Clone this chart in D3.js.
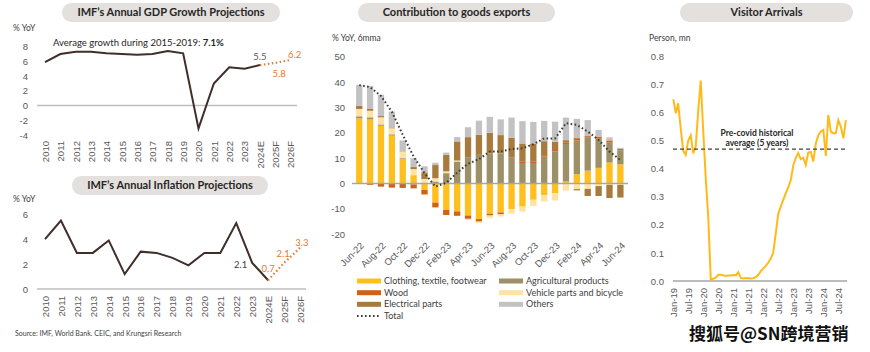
<!DOCTYPE html>
<html>
<head>
  <meta charset="utf-8">
  <title>Cambodia dashboard</title>
  <style>
    body { margin: 0; background: #fff; }
    svg { font-family: Lato, "Open Sans", sans-serif; }
    .pill { fill: #e3e0de; }
    .ptitle { font-weight: bold; font-size: 11px; text-anchor: middle; fill: #262626; }
    .tick text { font-size: 9.5px; fill: #595959; }
    .unit { font-size: 8.5px; fill: #404040; }
    .note { font-size: 9.5px; fill: #262626; }
    .lgd { font-size: 9px; fill: #404040; }
  </style>
</head>
<body>
  <svg id="chart" width="870" height="352"></svg>
  <script src="https://cdn.jsdelivr.net/npm/d3@7"></script>
  <script>
  // ---- data ----
  var years = ["2010","2011","2012","2013","2014","2015","2016","2017","2018",
               "2019","2020","2021","2022","2023","2024E","2025F","2026F"];
  var gdp = [5.9, 7.0, 7.3, 7.3, 7.1, 7.0, 6.9, 7.0, 7.4, 7.1, -3.1, 3.0, 5.2, 5.0, 5.5];
  var gdpProj = [5.5, 5.8, 6.2];
  var cpi = [4.0, 5.5, 2.9, 2.9, 3.9, 1.2, 3.0, 2.9, 2.5, 1.9, 2.9, 2.9, 5.3, 2.1, 0.7];
  var cpiProj = [0.7, 2.1, 3.3];

  var months = ["Jun-22","Jul-22","Aug-22","Sep-22","Oct-22","Nov-22","Dec-22",
                "Jan-23","Feb-23","Mar-23","Apr-23","May-23","Jun-23","Jul-23","Aug-23",
                "Sep-23","Oct-23","Nov-23","Dec-23","Jan-24","Feb-24","Mar-24","Apr-24",
                "May-24","Jun-24"];
  var clothing   = [25.7, 25.3, 22.8, 18.9, 9.7, 3.3, -2.5, -7.5, -10.4, -11.0, -12.6, -14.0, -11.9,
                    -11.4, -10.1, -9.1, -6.4, -4.5, -3.8, 0.8, 3.7, 5.1, 6.2, 8.3, 7.6];
  var agri       = [0.8, 0.8, 0.5, 0.5, 0.3, -0.4, 0.3, 0.8, 4.1, 8.7, 10.4, 11.3, 11.9,
                    11.9, 10.4, 8.1, 8.1, 10.6, 12.7, 14.8, 13.3, 13.0, 11.5, 8.0, 5.5];
  var wood       = [0, -0.5, -1.2, -1.6, -1.7, -1.5, -1.8, -1.9, -2.0, -1.7, -1.3, -1.0, -0.7,
                    -0.6, 0, 0.5, 0.5, 0.6, 0.5, 0.5, 0.9, 0.6, 0.8, 0.7, 0.5];
  var vehicle    = [2.9, 2.6, 2.8, 2.4, 2.5, 2.4, 1.5, 1.3, 0.7, 0.4, -0.5, -0.5, -1.0,
                    -1.0, -1.7, -2.0, -2.4, -2.6, -2.9, -2.8, -2.2, -2.1, -1.0, -0.5, -0.5];
  var electrical = [1.2, 0.7, 0.5, 0.3, 0, 0.8, 2.6, 5.2, 6.5, 7.5, 7.9, 7.9, 8.1,
                    7.2, 7.7, 7.2, 7.2, 5.5, 3.3, 1.0, -0.5, -2.8, -3.9, -5.2, -5.0];
  var others     = [8.3, 9.1, 8.4, 6.3, 4.5, 3.5, 2.4, 0.9, 0.9, 1.7, 3.9, 5.6, 6.3,
                    6.2, 7.9, 8.8, 8.5, 8.0, 7.9, 8.9, 7.6, 6.3, 2.6, 1.2, 0.5];
  var total      = [38.8, 38.0, 34.5, 28.3, 19.2, 10.6, 4.1, -1.2, 0.3, 4.3, 7.8, 9.6, 12.6,
                    12.6, 13.6, 13.9, 15.5, 17.8, 17.8, 23.8, 23.1, 20.5, 17.2, 12.6, 9.3];

  // monthly visitor arrivals, Jan-19 onwards (person, mn)
  var visitors = [0.648, 0.598, 0.634, 0.545, 0.465, 0.45, 0.50, 0.52, 0.455, 0.48, 0.61, 0.715,
                  0.53, 0.36, 0.23, 0.005, 0.008, 0.012, 0.022, 0.022, 0.020, 0.018, 0.020, 0.020,
                  0.021, 0.020, 0.031, 0.011, 0.009, 0.011, 0.010, 0.009, 0.010, 0.014, 0.022, 0.035,
                  0.045, 0.055, 0.065, 0.08, 0.10, 0.17, 0.24, 0.265, 0.29, 0.313, 0.335, 0.36,
                  0.414, 0.44, 0.456, 0.435, 0.44, 0.414, 0.458, 0.46, 0.426, 0.49, 0.52, 0.533,
                  0.539, 0.446, 0.592, 0.533, 0.527, 0.527, 0.574, 0.55, 0.509, 0.574];
  var visitorAvg = 0.47;

  var keys = ["clothing", "agri", "wood", "vehicle", "electrical", "others"];
  var names = {clothing: "Clothing, textile, footwear", agri: "Agricultural products",
               wood: "Wood", vehicle: "Vehicle parts and bicycle",
               electrical: "Electrical parts", others: "Others"};
  var colors = {clothing: "#ffbf1c", agri: "#9d9066", wood: "#cf611b",
                vehicle: "#ffe3a3", electrical: "#a87b3c", others: "#c2c2c2"};

  var svg = d3.select("#chart");
  svg.append("rect").attr("width", 870).attr("height", 352).attr("fill", "#fff");

  // plain hyphen for negatives, like the source
  var fmtInt = function(d) { return String(d); };

  function pill(x, y, w, h, label) {
    svg.append("rect").attr("class", "pill")
      .attr("x", x).attr("y", y).attr("width", w).attr("height", h).attr("rx", h / 2);
    svg.append("text").attr("class", "ptitle")
      .attr("x", x + w / 2).attr("y", y + h / 2).attr("dy", "0.36em").text(label);
  }

  // rotated category labels
  function rotLabels(g, angle) {
    g.select(".domain").remove();
    g.selectAll("text")
      .attr("x", 0).attr("y", 0).attr("dy", "0.35em")
      .attr("transform", "rotate(" + angle + ")")
      .style("text-anchor", "end");
  }
  function leftAxis(x, scale, ticks, fmt) {
    var g = svg.append("g").attr("transform", "translate(" + x + ",0)")
      .call(d3.axisLeft(scale).tickValues(ticks).tickSize(0).tickPadding(0).tickFormat(fmt));
    g.select(".domain").remove();
    return g;
  }

  /* ---------- panel 1: GDP ---------- */
  pill(62, 3, 218, 19, "IMF\u2019s Annual GDP Growth Projections");
  svg.append("text").attr("class", "unit").attr("x", 13).attr("y", 31).text("% YoY");
  var xG = d3.scalePoint().domain(years).range([45, 290.6]);
  var yG = d3.scaleLinear().domain([-4, 8]).range([135, 46.7]);
  leftAxis(28, yG, d3.range(-4, 9, 2), fmtInt);
  svg.append("line").attr("x1", 37).attr("x2", 297).attr("y1", yG(0)).attr("y2", yG(0))
    .attr("stroke", "#bfbfbf").attr("stroke-width", 1.5);
  svg.append("g").attr("transform", "translate(0,141)")
    .call(d3.axisBottom(xG).tickSize(0)).call(rotLabels, -90);
  svg.append("path").datum(gdp)
    .attr("fill", "none").attr("stroke", "#3f2f2b").attr("stroke-width", 2)
    .attr("d", d3.line().x(function(d, i) { return xG(years[i]); }).y(function(d) { return yG(d); }));
  svg.append("path").datum(gdpProj)
    .attr("fill", "none").attr("stroke", "#e07a2e").attr("stroke-width", 2.2)
    .attr("stroke-dasharray", "1.5,2.5")
    .attr("d", d3.line().x(function(d, i) { return xG(years[14 + i]); }).y(function(d) { return yG(d); }));
  var avg = svg.append("text").attr("class", "note").attr("x", 53).attr("y", 46);
  avg.append("tspan").text("Average growth during 2015-2019: ");
  avg.append("tspan").attr("font-weight", "bold").text("7.1%");
  svg.append("text").attr("class", "note").attr("text-anchor", "middle").style("fill", "#595959")
    .attr("x", xG("2024E")).attr("y", yG(gdpProj[0]) - 5).text(gdpProj[0].toFixed(1));
  svg.append("text").attr("class", "note").attr("text-anchor", "middle").style("fill", "#e07a2e")
    .attr("x", xG("2025F") + 4).attr("y", yG(gdpProj[1]) + 14).text(gdpProj[1].toFixed(1));
  svg.append("text").attr("class", "note").attr("text-anchor", "middle").style("fill", "#e07a2e")
    .attr("x", xG("2026F") + 4).attr("y", yG(gdpProj[2]) - 2).text(gdpProj[2].toFixed(1));

  /* ---------- panel 2: inflation ---------- */
  pill(72, 176, 196, 19, "IMF\u2019s Annual Inflation Projections");
  svg.append("text").attr("class", "unit").attr("x", 13).attr("y", 202).text("% YoY");
  var xC = d3.scalePoint().domain(years).range([45, 300]);
  var yC = d3.scaleLinear().domain([0, 6]).range([289, 214.3]);
  leftAxis(28, yC, d3.range(0, 7, 2), fmtInt);
  svg.append("line").attr("x1", 37).attr("x2", 306).attr("y1", yC(0)).attr("y2", yC(0))
    .attr("stroke", "#bfbfbf").attr("stroke-width", 1.5);
  svg.append("g").attr("transform", "translate(0,296)")
    .call(d3.axisBottom(xC).tickSize(0)).call(rotLabels, -90);
  svg.append("path").datum(cpi)
    .attr("fill", "none").attr("stroke", "#3f2f2b").attr("stroke-width", 2)
    .attr("d", d3.line().x(function(d, i) { return xC(years[i]); }).y(function(d) { return yC(d); }));
  svg.append("path").datum(cpiProj)
    .attr("fill", "none").attr("stroke", "#e07a2e").attr("stroke-width", 2.2)
    .attr("stroke-dasharray", "1.5,2.5")
    .attr("d", d3.line().x(function(d, i) { return xC(years[14 + i]); }).y(function(d) { return yC(d); }));
  svg.append("text").attr("class", "note").attr("text-anchor", "end").style("fill", "#404040")
    .attr("x", xC("2023") - 5).attr("y", yC(cpi[13]) + 5).text(cpi[13].toFixed(1));
  svg.append("text").attr("class", "note").attr("text-anchor", "middle").style("fill", "#e07a2e")
    .attr("x", xC("2024E")).attr("y", yC(cpiProj[0]) - 8).text(cpiProj[0].toFixed(1));
  svg.append("text").attr("class", "note").attr("text-anchor", "middle").style("fill", "#e07a2e")
    .attr("x", xC("2025F") - 1).attr("y", yC(cpiProj[1]) - 6).text(cpiProj[1].toFixed(1));
  svg.append("text").attr("class", "note").attr("text-anchor", "middle").style("fill", "#e07a2e")
    .attr("x", xC("2026F") + 2).attr("y", yC(cpiProj[2]) - 2).text(cpiProj[2].toFixed(1));
  svg.append("text").attr("x", 15).attr("y", 336).attr("font-size", 7).attr("fill", "#404040")
    .text("Source: IMF, World Bank. CEIC, and Krungsri Research");

  /* ---------- panel 3: contribution to goods exports ---------- */
  pill(358, 3, 197, 19, "Contribution to goods exports");
  svg.append("text").attr("class", "unit").attr("x", 332).attr("y", 41).text("% YoY, 6mma");
  var rows = months.map(function(m, i) {
    return {month: m, clothing: clothing[i], agri: agri[i], wood: wood[i],
            vehicle: vehicle[i], electrical: electrical[i], others: others[i]};
  });
  var series = d3.stack().keys(keys).offset(d3.stackOffsetDiverging)(rows);
  var xM = d3.scaleBand().domain(months).range([351.5, 628.1]).padding(0.42);
  var yM = d3.scaleLinear().domain([-20, 50]).range([234.3, 56.7]);
  leftAxis(345, yM, d3.range(-20, 51, 10), fmtInt);
  svg.append("g").selectAll("g").data(series).enter().append("g")
      .attr("fill", function(s) { return colors[s.key]; })
    .selectAll("rect").data(function(s) { return s; }).enter().append("rect")
      .attr("x", function(d) { return xM(d.data.month); })
      .attr("width", xM.bandwidth())
      .attr("y", function(d) { return yM(d[1]); })
      .attr("height", function(d) { return Math.abs(yM(d[0]) - yM(d[1])); });
  svg.append("line").attr("x1", 352).attr("x2", 628).attr("y1", yM(0)).attr("y2", yM(0))
    .attr("stroke", "#a6a6a6").attr("stroke-width", 1.5);
  svg.append("path").datum(total)
    .attr("fill", "none").attr("stroke", "#3a3a3a").attr("stroke-width", 2)
    .attr("stroke-dasharray", "1.6,2.4")
    .attr("d", d3.line()
      .x(function(d, i) { return xM(months[i]) + xM.bandwidth() / 2; })
      .y(function(d) { return yM(d); }));
  svg.append("g").attr("transform", "translate(3,244)")
    .call(d3.axisBottom(xM).tickSize(0)
      .tickValues(months.filter(function(d, i) { return i % 2 === 0; })))
    .call(rotLabels, -45);

  // legend
  var lgdItems = [["clothing", 357, 281], ["wood", 357, 292.7], ["electrical", 357, 304.3],
                  ["agri", 499, 281], ["vehicle", 499, 292.7], ["others", 499, 304.3]];
  var lg = svg.append("g");
  lgdItems.forEach(function(it) {
    lg.append("rect").attr("x", it[1]).attr("y", it[2] - 2.5).attr("width", 24).attr("height", 5)
      .attr("fill", colors[it[0]]);
    lg.append("text").attr("class", "lgd").attr("x", it[1] + 27).attr("y", it[2])
      .attr("dy", "0.35em").text(names[it[0]]);
  });
  lg.append("line").attr("x1", 357).attr("x2", 381).attr("y1", 316).attr("y2", 316)
    .attr("stroke", "#3a3a3a").attr("stroke-width", 2).attr("stroke-dasharray", "1.6,2.4");
  lg.append("text").attr("class", "lgd").attr("x", 384).attr("y", 316).attr("dy", "0.35em").text("Total");

  /* ---------- panel 4: visitor arrivals ---------- */
  pill(680, 3, 173, 19, "Visitor Arrivals");
  svg.append("text").attr("class", "unit").attr("x", 649).attr("y", 41).text("Person, mn");
  var vDates = visitors.map(function(v, i) { return new Date(2019, i, 1); });
  var xV = d3.scaleTime().domain([new Date(2019, 0, 1), new Date(2024, 6, 1)]).range([673.3, 838.3]);
  var yV = d3.scaleLinear().domain([0, 0.8]).range([281, 56.7]);
  leftAxis(664, yV, d3.range(0, 0.81, 0.1), d3.format(".1f"));
  svg.append("line").attr("x1", 673).attr("x2", 847).attr("y1", yV(0)).attr("y2", yV(0))
    .attr("stroke", "#a6a6a6").attr("stroke-width", 1.5);
  svg.append("g").attr("transform", "translate(0,288)")
    .call(d3.axisBottom(xV).tickSize(0)
      .tickValues(d3.timeMonth.every(6).range(new Date(2019, 0, 1), new Date(2024, 7, 1)))
      .tickFormat(d3.timeFormat("%b-%y")))
    .call(rotLabels, -90);
  svg.append("path").datum(visitors)
    .attr("fill", "none").attr("stroke", "#ffba1a").attr("stroke-width", 2)
    .attr("d", d3.line().x(function(d, i) { return xV(vDates[i]); }).y(function(d) { return yV(d); }));
  svg.append("line").attr("x1", 673).attr("x2", 848).attr("y1", yV(visitorAvg)).attr("y2", yV(visitorAvg))
    .attr("stroke", "#404040").attr("stroke-width", 1.2).attr("stroke-dasharray", "4,3");
  var avgTxt = svg.append("text").attr("text-anchor", "middle").attr("font-weight", "bold")
    .attr("font-size", 8.5).attr("fill", "#262626");
  avgTxt.append("tspan").attr("x", 757).attr("y", 136).text("Pre-covid historical");
  avgTxt.append("tspan").attr("x", 757).attr("y", 146).text("average (5 years)");

  // watermark
  svg.append("text").attr("x", 689).attr("y", 340)
    .attr("font-family", "'Noto Sans CJK SC', sans-serif").attr("font-size", 17).attr("font-weight", "bold")
    .attr("fill", "#111").attr("stroke", "#fff").attr("stroke-width", 2.5).attr("paint-order", "stroke")
    .text("搜狐号@SN跨境营销");
  </script>
</body>
</html>
